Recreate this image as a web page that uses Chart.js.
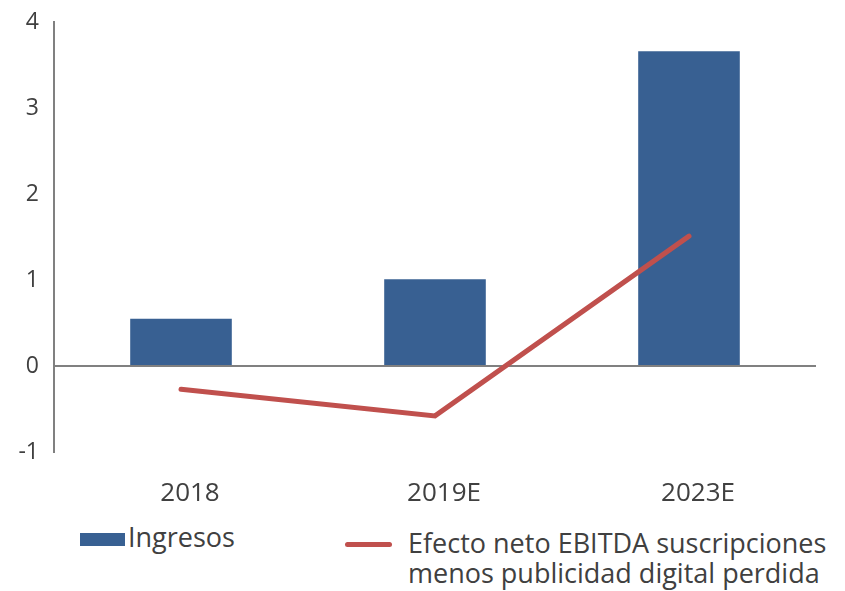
<!DOCTYPE html>
<html lang="es">
<head>
<meta charset="utf-8">
<script src="https://cdn.jsdelivr.net/npm/chart.js@4"></script>
<style>
  body { margin: 0; background: #fff; font-family: 'Open Sans', sans-serif; color: #404040; }
  #wrap { position: relative; width: 845px; height: 591px; }
  #box { position: absolute; left: 0; top: 0; width: 845px; height: 510px; }
  .leg { position: absolute; font-size: 27px; line-height: 30px; color: #404040; white-space: nowrap; }
  .leg-marca { position: absolute; }
</style>
</head>
<body>
<div id="wrap">
  <div id="box"><canvas id="grafico"></canvas></div>
  <div id="legenda"></div>
</div>
<script>
// ===== Dados =====
const categorias = ['2018', '2019E', '2023E'];
const ingresos = [0.55, 1.01, 3.66];
const efectoNeto = [-0.27, -0.58, 1.51];
const ticksY = [-1, 0, 1, 2, 3, 4];

const rotulos = {
  ingresos: 'Ingresos',
  efecto: ['Efecto neto EBITDA suscripciones', 'menos publicidad digital perdida'],
};

const AZUL = '#386092';
const VERMELHO = '#c0504d';
const CINZA = '#808080';

// ===== Gráfico =====
const grafico = new Chart(document.getElementById('grafico'), {
  data: {
    labels: categorias,
    datasets: [
      {
        type: 'line',
        label: rotulos.efecto.join(' '),
        data: efectoNeto,
        borderColor: VERMELHO,
        borderWidth: 5,
        borderCapStyle: 'round',
        pointRadius: 0,
        tension: 0,
        order: 0,
      },
      {
        type: 'bar',
        label: rotulos.ingresos,
        data: ingresos,
        backgroundColor: AZUL,
        barPercentage: 0.4,
        categoryPercentage: 1,
        order: 1,
      },
    ],
  },
  options: {
    responsive: true,
    maintainAspectRatio: false,
    animation: false,
    layout: { padding: { top: 22, right: 29, left: 0, bottom: 0 } },
    plugins: { legend: { display: false }, tooltip: { enabled: false } },
    scales: {
      x: {
        grid: { display: false },
        border: { display: false },
        ticks: { color: '#404040', font: { family: 'Open Sans', size: 26 }, padding: 18, labelOffset: 9 },
        afterFit: (s) => { s.height = 58; },
      },
      y: {
        min: -1,
        max: 4,
        afterBuildTicks: (s) => { s.ticks = ticksY.map((v) => ({ value: v })); },
        grid: {
          drawTicks: false,
          color: (c) => (c.tick && c.tick.value === 0 ? CINZA : 'rgba(0,0,0,0)'),
          lineWidth: 2,
        },
        border: { display: true, color: CINZA, width: 2 },
        ticks: { color: '#404040', font: { family: 'Open Sans', size: 23 }, padding: 15 },
        afterFit: (s) => {
          s.width = 54;
          s.paddingTop = 0;
          s.paddingBottom = 0;
        },
      },
    },
  },
});

// ===== Legenda em HTML =====
const legenda = document.getElementById('legenda');
legenda.innerHTML = `
  <span class="leg-marca" style="left:80px;top:533px;width:45px;height:13px;background:${AZUL}"></span>
  <span class="leg" style="left:128px;top:522px">${rotulos.ingresos}</span>
  <span class="leg-marca" style="left:345px;top:542px;width:47px;height:5px;border-radius:3px;background:${VERMELHO}"></span>
  <span class="leg" style="left:408px;top:528px">${rotulos.efecto.join('<br>')}</span>
`;
</script>
</body>
</html>
